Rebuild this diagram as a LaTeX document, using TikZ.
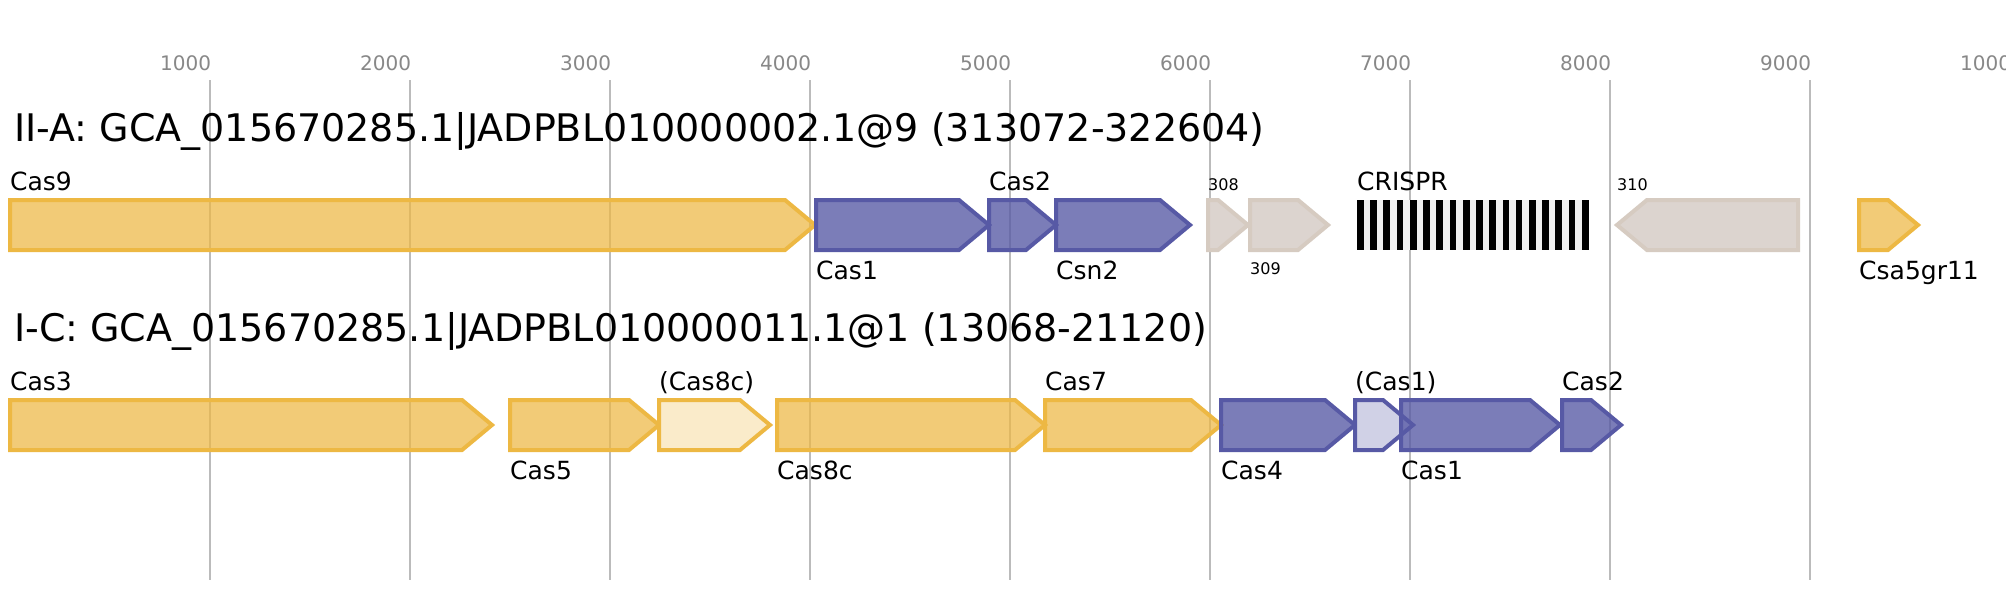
\documentclass[tikz,border=0pt]{standalone}
\usepackage{fontspec}
\setmainfont{DejaVu Sans}
\definecolor{ystroke}{HTML}{EDB843}
\definecolor{bstroke}{HTML}{5759A5}
\definecolor{lyfill}{HTML}{FAEBCA}
\definecolor{lbfill}{HTML}{D0D1E6}
\definecolor{gfill}{HTML}{DCD4CF}
\definecolor{gstroke}{HTML}{D6CBC1}
\definecolor{gridc}{HTML}{BBBBBB}
\definecolor{axc}{HTML}{888888}
\definecolor{crbg}{HTML}{EFEFEF}
\tikzset{
 genebase/.style={line width=4pt, line join=miter},
 ygene/.style={genebase, draw=ystroke, fill=ystroke, fill opacity=0.72},
 bgene/.style={genebase, draw=bstroke, fill=bstroke, fill opacity=0.78},
 lygene/.style={genebase, draw=ystroke, fill=lyfill},
 lbgene/.style={genebase, draw=bstroke, fill=lbfill},
 ggene/.style={genebase, draw=gstroke, fill=gfill},
 gridline/.style={draw=gridc, line width=2pt},
 axlabel/.style={anchor=base west, inner sep=0pt, text=axc, font=\fontsize{20}{24}\selectfont},
 titlelabel/.style={anchor=base west, inner sep=0pt, font=\fontsize{38}{44}\selectfont},
 glabel/.style={anchor=base west, inner sep=0pt, font=\fontsize{25}{30}\selectfont},
 slabel/.style={anchor=base west, inner sep=0pt, font=\fontsize{16}{19}\selectfont},
}
\newcommand{\fwdgene}[4]{\path[#4] (#1,#3) -- ({#2-30},#3) -- (#2,{#3+25}) -- ({#2-30},{#3+50}) -- (#1,{#3+50}) -- cycle;}
\newcommand{\revgene}[4]{\path[#4] (#2,#3) -- ({#1+30},#3) -- (#1,{#3+25}) -- ({#1+30},{#3+50}) -- (#2,{#3+50}) -- cycle;}
\begin{document}
\begin{tikzpicture}[x=1pt,y=-1pt]
\useasboundingbox[fill=white] (0,0) rectangle (2006,600);
% grid and axis
\foreach \n in {1,...,9} {\draw[gridline] ({10+200*\n},80) -- ({10+200*\n},580);}
\foreach \n in {1,...,10} {\node[axlabel] (ax\n) at ({200*\n-40},70) {\n000};}
% titles
\node[titlelabel] (t1) at (14,141) {II-A: GCA\_015670285.1|JADPBL010000002.1@9 (313072-322604)};
\node[titlelabel] (t2) at (14,341) {I-C: GCA\_015670285.1|JADPBL010000011.1@1 (13068-21120)};
% row 1
\fwdgene{10}{815}{200}{ygene}
\fwdgene{816}{989}{200}{bgene}
\fwdgene{989}{1056}{200}{bgene}
\fwdgene{1056}{1190}{200}{bgene}
\fwdgene{1208}{1248}{200}{ggene}
\fwdgene{1250}{1328}{200}{ggene}
\fill[crbg] (1357,200) rectangle (1588,250);
\foreach \i in {0,...,17} {\fill[black] ({1357+13.23*\i},200) rectangle ({1357+13.23*\i+6.7},250);}
\revgene{1617}{1798}{200}{ggene}
\fwdgene{1859}{1918}{200}{ygene}
\node[glabel] (l9) at (10,190) {Cas9};
\node[glabel] (l1) at (816,279) {Cas1};
\node[glabel] (l2) at (989,190) {Cas2};
\node[glabel] (ln2) at (1056,279) {Csn2};
\node[slabel] (l308) at (1208,190) {308};
\node[slabel] (l309) at (1250,274) {309};
\node[glabel] (lcr) at (1357,190) {CRISPR};
\node[slabel] (l310) at (1617,190) {310};
\node[glabel] (lcsa) at (1859,279) {Csa5gr11};
% row 2
\fwdgene{10}{492}{400}{ygene}
\fwdgene{510}{659}{400}{ygene}
\fwdgene{659}{770}{400}{lygene}
\fwdgene{777}{1045}{400}{ygene}
\fwdgene{1045}{1221}{400}{ygene}
\fwdgene{1221}{1355}{400}{bgene}
\fwdgene{1355}{1413}{400}{lbgene}
\fwdgene{1401}{1560}{400}{bgene}
\fwdgene{1562}{1621}{400}{bgene}
\node[glabel] (m3) at (10,390) {Cas3};
\node[glabel] (m5) at (510,479) {Cas5};
\node[glabel] (m8a) at (659,390) {(Cas8c)};
\node[glabel] (m8) at (777,479) {Cas8c};
\node[glabel] (m7) at (1045,390) {Cas7};
\node[glabel] (m4) at (1221,479) {Cas4};
\node[glabel] (m1a) at (1355,390) {(Cas1)};
\node[glabel] (m1) at (1401,479) {Cas1};
\node[glabel] (m2) at (1562,390) {Cas2};
\end{tikzpicture}
\end{document}
